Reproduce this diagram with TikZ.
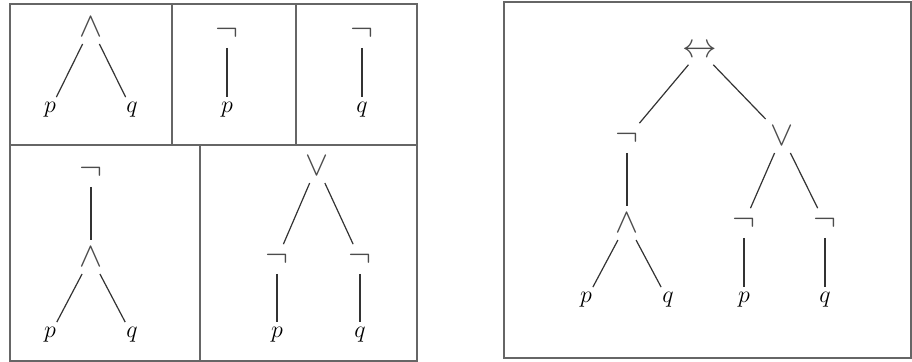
\documentclass[tikz,border=0pt]{standalone}
\usepackage{amsmath,amssymb}
\usepackage{tikz}

\begin{document}
\begin{tikzpicture}[x=0.5pt, y=-0.5pt, every node/.style={font=\large},
    conn/.style={font=\LARGE, inner sep=3.5pt, text=black!70},
    atom/.style={inner sep=2.5pt},
    edge/.style={black!80, line width=0.6pt},
    frame/.style={black!60, line width=0.7pt}]
  \useasboundingbox (0,0) rectangle (912,361);
  % frames
  \draw[frame] (10,4) rectangle (417,361);
  \draw[frame] (10,145) -- (417,145);
  \draw[frame] (172,4) -- (172,145);
  \draw[frame] (296,4) -- (296,145);
  \draw[frame] (200,145) -- (200,361);
  \draw[frame] (504,2) rectangle (911,358);
  % p and q
  \node[conn] (a1) at (91,27) {$\wedge$};
  \node[atom] (a1p) at (50,110) {$p$};
  \node[atom] (a1q) at (132,110) {$q$};
  \draw[edge] (a1) -- (a1p);
  \draw[edge] (a1) -- (a1q);
  % not p
  \node[conn] (n1) at (227,33) {$\neg$};
  \node[atom] (n1p) at (227,110) {$p$};
  \draw[edge] (n1) -- (n1p);
  % not q
  \node[conn] (n2) at (362,33) {$\neg$};
  \node[atom] (n2q) at (362,110) {$q$};
  \draw[edge] (n2) -- (n2q);
  % not (p and q)
  \node[conn] (n3) at (91,172) {$\neg$};
  \node[conn] (a2) at (91,257) {$\wedge$};
  \node[atom] (a2p) at (50,335) {$p$};
  \node[atom] (a2q) at (132,335) {$q$};
  \draw[edge] (n3) -- (a2);
  \draw[edge] (a2) -- (a2p);
  \draw[edge] (a2) -- (a2q);
  % not p or not q
  \node[conn] (o1) at (317,166) {$\vee$};
  \node[conn] (n4) at (277,259) {$\neg$};
  \node[conn] (n5) at (360,259) {$\neg$};
  \node[atom] (n4p) at (277,335) {$p$};
  \node[atom] (n5q) at (360,335) {$q$};
  \draw[edge] (o1) -- (n4);
  \draw[edge] (o1) -- (n5);
  \draw[edge] (n4) -- (n4p);
  \draw[edge] (n5) -- (n5q);
  % the whole formula
  \node[conn] (iff) at (700,51) {$\leftrightarrow$};
  \node[conn] (n6) at (627,138) {$\neg$};
  \node[conn] (o2) at (782,136) {$\vee$};
  \node[conn] (a3) at (627,223) {$\wedge$};
  \node[conn] (n7) at (744,223) {$\neg$};
  \node[conn] (n8) at (825,223) {$\neg$};
  \node[atom] (a3p) at (586,300) {$p$};
  \node[atom] (a3q) at (668,300) {$q$};
  \node[atom] (n7p) at (744,300) {$p$};
  \node[atom] (n8q) at (825,300) {$q$};
  \draw[edge] (iff) -- (n6);
  \draw[edge] (iff) -- (o2);
  \draw[edge] (n6) -- (a3);
  \draw[edge] (a3) -- (a3p);
  \draw[edge] (a3) -- (a3q);
  \draw[edge] (o2) -- (n7);
  \draw[edge] (o2) -- (n8);
  \draw[edge] (n7) -- (n7p);
  \draw[edge] (n8) -- (n8q);
\end{tikzpicture}
\end{document}
